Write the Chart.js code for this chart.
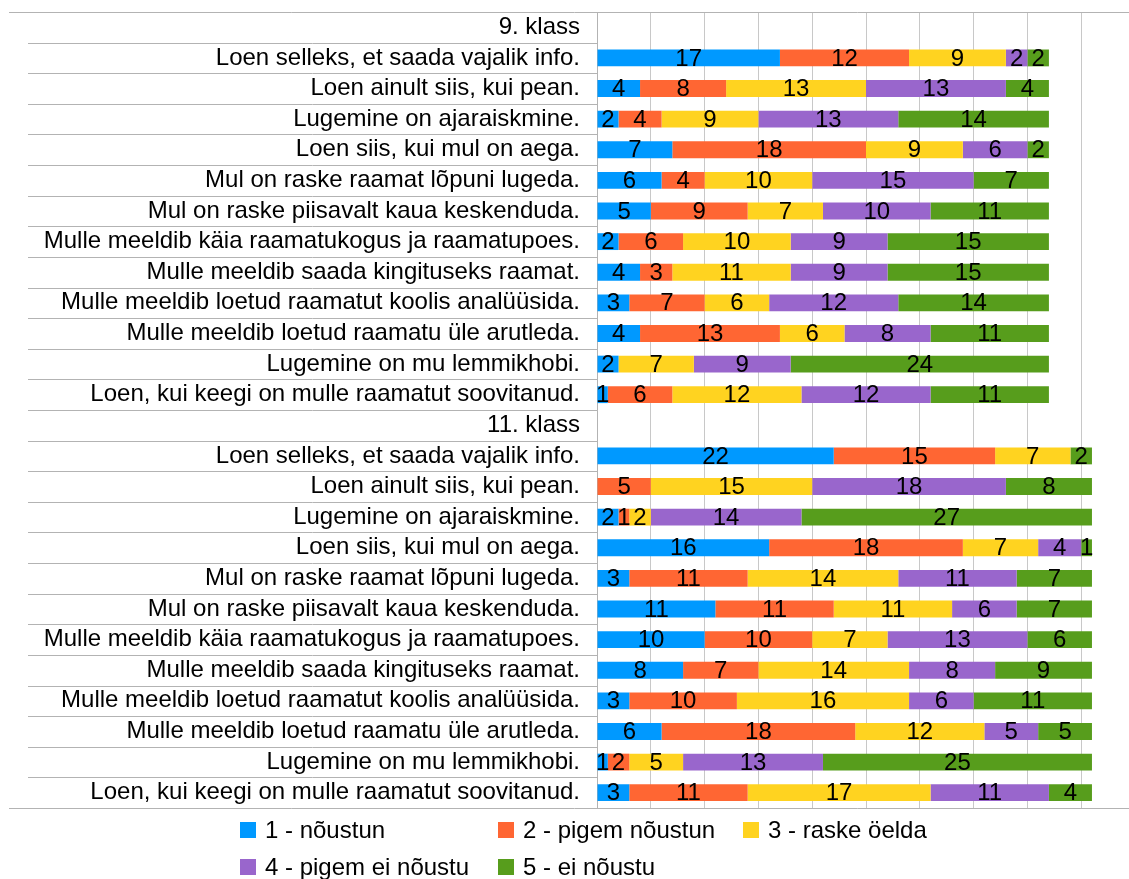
<!DOCTYPE html>
<html>
<head>
<meta charset="utf-8">
<script src="https://cdn.jsdelivr.net/npm/chart.js@4/dist/chart.umd.min.js"></script>
<style>
  html, body { margin: 0; padding: 0; background: #fff; overflow: hidden; }
  #wrap { position: relative; width: 1140px; height: 879px; }
  #legend {
    position: absolute; left: 240px; top: 811px;
    display: grid; grid-template-columns: 258px 245px auto;
    font-family: "Liberation Sans", Arial, sans-serif; font-size: 24px; color: #000;
  }
  #legend .item { display: flex; align-items: center; height: 37px; white-space: nowrap; }
  #legend .box { width: 16px; height: 16px; margin-right: 9px; }
</style>
</head>
<body>
<div id="wrap">
  <canvas id="chart" width="1140" height="879"></canvas>
  <div id="legend"></div>
</div>
<script>
const categories = [
  "9. klass",
  "Loen selleks, et saada vajalik info.",
  "Loen ainult siis, kui pean.",
  "Lugemine on ajaraiskmine.",
  "Loen siis, kui mul on aega.",
  "Mul on raske raamat lõpuni lugeda.",
  "Mul on raske piisavalt kaua keskenduda.",
  "Mulle meeldib käia raamatukogus ja raamatupoes.",
  "Mulle meeldib saada kingituseks raamat.",
  "Mulle meeldib loetud raamatut koolis analüüsida.",
  "Mulle meeldib loetud raamatu üle arutleda.",
  "Lugemine on mu lemmikhobi.",
  "Loen, kui keegi on mulle raamatut soovitanud.",
  "11. klass",
  "Loen selleks, et saada vajalik info.",
  "Loen ainult siis, kui pean.",
  "Lugemine on ajaraiskmine.",
  "Loen siis, kui mul on aega.",
  "Mul on raske raamat lõpuni lugeda.",
  "Mul on raske piisavalt kaua keskenduda.",
  "Mulle meeldib käia raamatukogus ja raamatupoes.",
  "Mulle meeldib saada kingituseks raamat.",
  "Mulle meeldib loetud raamatut koolis analüüsida.",
  "Mulle meeldib loetud raamatu üle arutleda.",
  "Lugemine on mu lemmikhobi.",
  "Loen, kui keegi on mulle raamatut soovitanud."
];

const seriesNames = ["1 - nõustun", "2 - pigem nõustun", "3 - raske öelda", "4 - pigem ei nõustu", "5 - ei nõustu"];
const seriesColors = ["#0099ff", "#ff6633", "#ffd320", "#9966cc", "#579d1c"];

const nõustun      = [null, 17, 4, 2, 7, 6, 5, 2, 4, 3, 4, 2, 1,   null, 22, 0, 2, 16, 3, 11, 10, 8, 3, 6, 1, 3];
const pigemNõustun = [null, 12, 8, 4, 18, 4, 9, 6, 3, 7, 13, 0, 6, null, 15, 5, 1, 18, 11, 11, 10, 7, 10, 18, 2, 11];
const raskeÖelda   = [null, 9, 13, 9, 9, 10, 7, 10, 11, 6, 6, 7, 12, null, 7, 15, 2, 7, 14, 11, 7, 14, 16, 12, 5, 17];
const pigemEi      = [null, 2, 13, 13, 6, 15, 10, 9, 9, 12, 8, 9, 12, null, 0, 18, 14, 4, 11, 6, 13, 8, 6, 5, 13, 11];
const eiNõustu     = [null, 2, 4, 14, 2, 7, 11, 15, 15, 14, 11, 24, 11, null, 2, 8, 27, 1, 7, 7, 6, 9, 11, 5, 25, 4];

const seriesData = [nõustun, pigemNõustun, raskeÖelda, pigemEi, eiNõustu];

const xMax = 50;
const xStep = 5;

const FONT = "Liberation Sans";
const LINE = "#b3b3b3";

// row separators in the label column + top/bottom frame
const framePlugin = {
  id: "frame",
  beforeDatasetsDraw(chart) {
    const { ctx, chartArea, scales } = chart;
    const y = scales.y;
    const step = y.getPixelForValue(1) - y.getPixelForValue(0);
    ctx.save();
    ctx.strokeStyle = LINE;
    ctx.lineWidth = 1;
    ctx.beginPath();
    for (let i = 1; i < categories.length; i++) {
      const yy = Math.round(y.getPixelForValue(i) - step / 2) + 0.5;
      ctx.moveTo(28, yy);
      ctx.lineTo(chartArea.left, yy);
    }
    const top = Math.round(chartArea.top) + 0.5;
    const bottom = Math.round(chartArea.bottom) + 0.5;
    ctx.moveTo(9, top);
    ctx.lineTo(chart.width, top);
    ctx.moveTo(9, bottom);
    ctx.lineTo(chart.width, bottom);
    ctx.stroke();
    ctx.restore();
  }
};

// value labels in the middle of each segment
const valueLabels = {
  id: "valueLabels",
  afterDatasetsDraw(chart) {
    const { ctx } = chart;
    ctx.save();
    ctx.font = "24px '" + FONT + "'";
    ctx.fillStyle = "#000";
    ctx.textAlign = "center";
    ctx.textBaseline = "middle";
    chart.data.datasets.forEach((ds, di) => {
      chart.getDatasetMeta(di).data.forEach((bar, i) => {
        const v = ds.data[i];
        if (!v) return;
        ctx.fillText(String(v), (bar.x + bar.base) / 2, bar.y + 1);
      });
    });
    ctx.restore();
  }
};

const ctx = document.getElementById("chart").getContext("2d");
new Chart(ctx, {
  type: "bar",
  data: {
    labels: categories,
    datasets: seriesData.map((d, i) => ({
      label: seriesNames[i],
      data: d,
      backgroundColor: seriesColors[i],
      borderWidth: 0,
      barPercentage: 0.55,
      categoryPercentage: 1.0
    }))
  },
  options: {
    indexAxis: "y",
    responsive: false,
    animation: false,
    layout: { padding: { left: 9, top: 12, right: 5, bottom: 71 } },
    plugins: { legend: { display: false }, tooltip: { enabled: false } },
    scales: {
      x: {
        stacked: true,
        min: 0,
        max: xMax,
        ticks: { display: false, stepSize: xStep },
        grid: { color: "#c8c8c8", drawTicks: false },
        border: { display: false }
      },
      y: {
        stacked: true,
        afterFit(s) {
          s.width = 588;
          s.paddingTop = 0;
          s.paddingBottom = 0;
        },
        ticks: {
          autoSkip: false,
          padding: 17,
          color: "#000",
          font: { family: FONT, size: 24 }
        },
        grid: { display: false, drawTicks: false },
        border: { display: true, color: LINE }
      }
    }
  },
  plugins: [framePlugin, valueLabels]
});

// legend laid out as in the reference (3 columns, 2 rows)
const legend = document.getElementById("legend");
seriesNames.forEach((name, i) => {
  const item = document.createElement("div");
  item.className = "item";
  const box = document.createElement("span");
  box.className = "box";
  box.style.background = seriesColors[i];
  const txt = document.createElement("span");
  txt.textContent = name;
  item.appendChild(box);
  item.appendChild(txt);
  legend.appendChild(item);
});
</script>
</body>
</html>
